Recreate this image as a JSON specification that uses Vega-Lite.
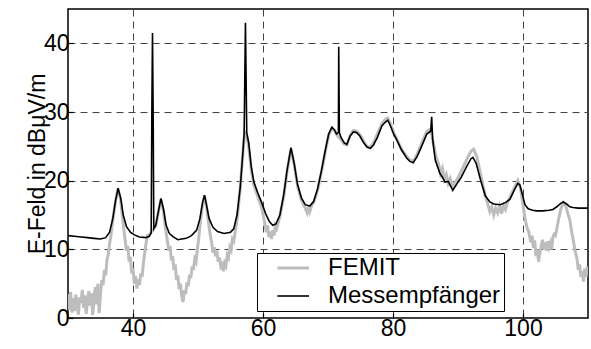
{
"$schema": "https://vega.github.io/schema/vega-lite/v6.json",
"width": 520,
"height": 309,
"padding": {"left": 68, "top": 9, "right": 3, "bottom": 31},
"autosize": {"type": "none"},
"config": {
  "font": "Liberation Sans",
  "view": {"stroke": "black", "strokeWidth": 1.5},
  "axis": {"labelFont": "Liberation Sans", "labelFontSize": 23, "labelColor": "black", "titleFont": "Liberation Sans", "titleFontSize": 23, "titleFontWeight": "normal", "titleColor": "black", "domain": false, "grid": true, "gridColor": "#444444", "gridDash": [7, 5], "gridWidth": 1, "gridOpacity": 1, "tickColor": "black", "tickSize": -5, "tickWidth": 1.2}
},
"data": {"values": [
{"s":"FEMIT","f":30,"e":3.5},{"s":"FEMIT","f":30.2,"e":1.2},{"s":"FEMIT","f":30.4,"e":3.8},{"s":"FEMIT","f":30.6,"e":0.8},{"s":"FEMIT","f":30.8,"e":2.9},{"s":"FEMIT","f":31,"e":1.0},{"s":"FEMIT","f":31.2,"e":3.4},{"s":"FEMIT","f":31.4,"e":2.0},{"s":"FEMIT","f":31.6,"e":0.5},{"s":"FEMIT","f":31.8,"e":3.0},{"s":"FEMIT","f":32,"e":2.2},{"s":"FEMIT","f":32.2,"e":4.1},{"s":"FEMIT","f":32.4,"e":1.5},{"s":"FEMIT","f":32.6,"e":3.3},{"s":"FEMIT","f":32.8,"e":0.6},{"s":"FEMIT","f":33,"e":2.5},{"s":"FEMIT","f":33.2,"e":3.9},{"s":"FEMIT","f":33.4,"e":1.8},{"s":"FEMIT","f":33.6,"e":3.6},{"s":"FEMIT","f":33.8,"e":0.4},{"s":"FEMIT","f":34,"e":2.8},{"s":"FEMIT","f":34.2,"e":4.5},{"s":"FEMIT","f":34.4,"e":2.0},{"s":"FEMIT","f":34.6,"e":5.0},{"s":"FEMIT","f":34.8,"e":0.7},{"s":"FEMIT","f":35,"e":3.5},{"s":"FEMIT","f":35.2,"e":5.5},{"s":"FEMIT","f":35.4,"e":4.8},{"s":"FEMIT","f":35.6,"e":7.0},{"s":"FEMIT","f":35.8,"e":6.2},{"s":"FEMIT","f":36,"e":8.5},{"s":"FEMIT","f":36.2,"e":9.3},{"s":"FEMIT","f":36.4,"e":10.8},{"s":"FEMIT","f":36.6,"e":12.0},{"s":"FEMIT","f":36.9,"e":14.3},{"s":"FEMIT","f":37.3,"e":17.0},{"s":"FEMIT","f":37.7,"e":18.8},{"s":"FEMIT","f":38.1,"e":17.2},{"s":"FEMIT","f":38.4,"e":14.5},{"s":"FEMIT","f":38.7,"e":12.0},{"s":"FEMIT","f":39,"e":9.8},{"s":"FEMIT","f":39.2,"e":10.5},{"s":"FEMIT","f":39.4,"e":8.2},{"s":"FEMIT","f":39.6,"e":8.9},{"s":"FEMIT","f":39.8,"e":6.5},{"s":"FEMIT","f":40,"e":7.3},{"s":"FEMIT","f":40.2,"e":5.0},{"s":"FEMIT","f":40.4,"e":6.1},{"s":"FEMIT","f":40.6,"e":4.3},{"s":"FEMIT","f":40.8,"e":5.6},{"s":"FEMIT","f":41,"e":4.8},{"s":"FEMIT","f":41.2,"e":6.5},{"s":"FEMIT","f":41.4,"e":6.0},{"s":"FEMIT","f":41.6,"e":8.0},{"s":"FEMIT","f":41.8,"e":9.5},{"s":"FEMIT","f":42,"e":10.8},{"s":"FEMIT","f":42.2,"e":12.0},{"s":"FEMIT","f":42.5,"e":12.1},{"s":"FEMIT","f":42.8,"e":12.5},{"s":"FEMIT","f":43.2,"e":13.0},{"s":"FEMIT","f":43.5,"e":13.4},{"s":"FEMIT","f":43.9,"e":15.4},{"s":"FEMIT","f":44.3,"e":17.3},{"s":"FEMIT","f":44.7,"e":15.5},{"s":"FEMIT","f":45,"e":13.0},{"s":"FEMIT","f":45.3,"e":11.2},{"s":"FEMIT","f":45.5,"e":9.8},{"s":"FEMIT","f":45.7,"e":10.5},{"s":"FEMIT","f":45.9,"e":8.4},{"s":"FEMIT","f":46.1,"e":9.0},{"s":"FEMIT","f":46.3,"e":7.0},{"s":"FEMIT","f":46.5,"e":7.8},{"s":"FEMIT","f":46.7,"e":5.5},{"s":"FEMIT","f":46.9,"e":6.2},{"s":"FEMIT","f":47.1,"e":4.2},{"s":"FEMIT","f":47.3,"e":5.0},{"s":"FEMIT","f":47.5,"e":3.2},{"s":"FEMIT","f":47.7,"e":2.3},{"s":"FEMIT","f":47.9,"e":4.0},{"s":"FEMIT","f":48.1,"e":3.5},{"s":"FEMIT","f":48.3,"e":5.2},{"s":"FEMIT","f":48.5,"e":4.6},{"s":"FEMIT","f":48.7,"e":6.3},{"s":"FEMIT","f":48.9,"e":5.8},{"s":"FEMIT","f":49.1,"e":7.5},{"s":"FEMIT","f":49.3,"e":7.0},{"s":"FEMIT","f":49.5,"e":8.6},{"s":"FEMIT","f":49.7,"e":8.2},{"s":"FEMIT","f":49.9,"e":10.0},{"s":"FEMIT","f":50.1,"e":11.5},{"s":"FEMIT","f":50.3,"e":13.5},{"s":"FEMIT","f":50.7,"e":16.5},{"s":"FEMIT","f":51,"e":17.8},{"s":"FEMIT","f":51.3,"e":16.3},{"s":"FEMIT","f":51.6,"e":14.0},{"s":"FEMIT","f":51.9,"e":12.0},{"s":"FEMIT","f":52.1,"e":11.0},{"s":"FEMIT","f":52.3,"e":9.5},{"s":"FEMIT","f":52.5,"e":10.3},{"s":"FEMIT","f":52.7,"e":9.0},{"s":"FEMIT","f":52.9,"e":9.8},{"s":"FEMIT","f":53.1,"e":8.2},{"s":"FEMIT","f":53.3,"e":8.8},{"s":"FEMIT","f":53.5,"e":7.5},{"s":"FEMIT","f":53.7,"e":7.8},{"s":"FEMIT","f":53.9,"e":6.8},{"s":"FEMIT","f":54.1,"e":8.0},{"s":"FEMIT","f":54.3,"e":7.6},{"s":"FEMIT","f":54.5,"e":9.2},{"s":"FEMIT","f":54.7,"e":8.8},{"s":"FEMIT","f":54.9,"e":10.3},{"s":"FEMIT","f":55.1,"e":9.9},{"s":"FEMIT","f":55.3,"e":11.5},{"s":"FEMIT","f":55.5,"e":11.2},{"s":"FEMIT","f":55.8,"e":13.0},{"s":"FEMIT","f":56.1,"e":15.0},{"s":"FEMIT","f":56.5,"e":19.0},{"s":"FEMIT","f":56.9,"e":24.0},{"s":"FEMIT","f":57.2,"e":27.0},{"s":"FEMIT","f":57.5,"e":26.5},{"s":"FEMIT","f":57.8,"e":25.0},{"s":"FEMIT","f":58.2,"e":21.5},{"s":"FEMIT","f":58.6,"e":19.3},{"s":"FEMIT","f":59.2,"e":17.7},{"s":"FEMIT","f":59.8,"e":16.0},{"s":"FEMIT","f":60.2,"e":14.2},{"s":"FEMIT","f":60.5,"e":12.5},{"s":"FEMIT","f":60.7,"e":13.5},{"s":"FEMIT","f":60.9,"e":11.8},{"s":"FEMIT","f":61.1,"e":12.6},{"s":"FEMIT","f":61.3,"e":11.5},{"s":"FEMIT","f":61.5,"e":12.8},{"s":"FEMIT","f":61.7,"e":12.0},{"s":"FEMIT","f":61.9,"e":13.4},{"s":"FEMIT","f":62.1,"e":13.0},{"s":"FEMIT","f":62.6,"e":14.8},{"s":"FEMIT","f":63.2,"e":17.8},{"s":"FEMIT","f":63.7,"e":21.3},{"s":"FEMIT","f":64.3,"e":24.6},{"s":"FEMIT","f":64.8,"e":22.3},{"s":"FEMIT","f":65.3,"e":19.3},{"s":"FEMIT","f":65.9,"e":17.2},{"s":"FEMIT","f":66.5,"e":16.0},{"s":"FEMIT","f":66.8,"e":15.3},{"s":"FEMIT","f":67,"e":16.2},{"s":"FEMIT","f":67.2,"e":15.5},{"s":"FEMIT","f":67.5,"e":16.4},{"s":"FEMIT","f":67.8,"e":16.8},{"s":"FEMIT","f":68.4,"e":18.6},{"s":"FEMIT","f":69,"e":21.3},{"s":"FEMIT","f":69.6,"e":24.3},{"s":"FEMIT","f":70.1,"e":26.6},{"s":"FEMIT","f":70.6,"e":27.6},{"s":"FEMIT","f":71,"e":27.3},{"s":"FEMIT","f":71.5,"e":26.5},{"s":"FEMIT","f":72,"e":26.0},{"s":"FEMIT","f":72.5,"e":25.3},{"s":"FEMIT","f":72.9,"e":25.2},{"s":"FEMIT","f":73.4,"e":26.6},{"s":"FEMIT","f":73.9,"e":27.3},{"s":"FEMIT","f":74.4,"e":27.2},{"s":"FEMIT","f":74.9,"e":26.7},{"s":"FEMIT","f":75.5,"e":25.7},{"s":"FEMIT","f":76,"e":25.0},{"s":"FEMIT","f":76.5,"e":24.8},{"s":"FEMIT","f":77,"e":25.5},{"s":"FEMIT","f":77.6,"e":26.8},{"s":"FEMIT","f":78.3,"e":28.3},{"s":"FEMIT","f":78.8,"e":28.9},{"s":"FEMIT","f":79.2,"e":29.1},{"s":"FEMIT","f":79.6,"e":28.3},{"s":"FEMIT","f":80.1,"e":27.0},{"s":"FEMIT","f":80.6,"e":26.0},{"s":"FEMIT","f":81.3,"e":24.6},{"s":"FEMIT","f":82.1,"e":23.5},{"s":"FEMIT","f":82.6,"e":23.0},{"s":"FEMIT","f":83.1,"e":22.8},{"s":"FEMIT","f":83.7,"e":23.8},{"s":"FEMIT","f":84.4,"e":25.4},{"s":"FEMIT","f":85.2,"e":27.2},{"s":"FEMIT","f":85.8,"e":27.5},{"s":"FEMIT","f":86.2,"e":25.5},{"s":"FEMIT","f":86.6,"e":23.5},{"s":"FEMIT","f":87,"e":22.5},{"s":"FEMIT","f":87.3,"e":21.0},{"s":"FEMIT","f":87.6,"e":21.8},{"s":"FEMIT","f":87.9,"e":20.2},{"s":"FEMIT","f":88.2,"e":20.9},{"s":"FEMIT","f":88.5,"e":19.6},{"s":"FEMIT","f":88.8,"e":20.3},{"s":"FEMIT","f":89.2,"e":19.0},{"s":"FEMIT","f":89.6,"e":19.8},{"s":"FEMIT","f":90.1,"e":20.6},{"s":"FEMIT","f":90.7,"e":21.8},{"s":"FEMIT","f":91.3,"e":23.0},{"s":"FEMIT","f":92,"e":24.3},{"s":"FEMIT","f":92.4,"e":24.6},{"s":"FEMIT","f":92.9,"e":23.5},{"s":"FEMIT","f":93.5,"e":20.8},{"s":"FEMIT","f":94.2,"e":17.8},{"s":"FEMIT","f":94.6,"e":16.5},{"s":"FEMIT","f":94.9,"e":15.5},{"s":"FEMIT","f":95.2,"e":16.2},{"s":"FEMIT","f":95.5,"e":15.0},{"s":"FEMIT","f":95.8,"e":16.0},{"s":"FEMIT","f":96.1,"e":15.3},{"s":"FEMIT","f":96.4,"e":16.3},{"s":"FEMIT","f":96.7,"e":15.2},{"s":"FEMIT","f":97,"e":16.4},{"s":"FEMIT","f":97.3,"e":15.8},{"s":"FEMIT","f":97.6,"e":16.8},{"s":"FEMIT","f":98,"e":17.6},{"s":"FEMIT","f":98.6,"e":18.8},{"s":"FEMIT","f":99.2,"e":20.0},{"s":"FEMIT","f":99.6,"e":19.0},{"s":"FEMIT","f":100,"e":16.5},{"s":"FEMIT","f":100.3,"e":14.5},{"s":"FEMIT","f":100.6,"e":13.2},{"s":"FEMIT","f":100.9,"e":12.5},{"s":"FEMIT","f":101.2,"e":11.0},{"s":"FEMIT","f":101.4,"e":12.0},{"s":"FEMIT","f":101.6,"e":10.2},{"s":"FEMIT","f":101.8,"e":11.3},{"s":"FEMIT","f":102,"e":9.0},{"s":"FEMIT","f":102.2,"e":10.0},{"s":"FEMIT","f":102.4,"e":8.2},{"s":"FEMIT","f":102.6,"e":9.5},{"s":"FEMIT","f":102.8,"e":10.5},{"s":"FEMIT","f":103,"e":11.4},{"s":"FEMIT","f":103.2,"e":10.0},{"s":"FEMIT","f":103.4,"e":11.0},{"s":"FEMIT","f":103.6,"e":9.8},{"s":"FEMIT","f":103.8,"e":11.2},{"s":"FEMIT","f":104,"e":10.3},{"s":"FEMIT","f":104.2,"e":10.9},{"s":"FEMIT","f":104.4,"e":10.0},{"s":"FEMIT","f":104.6,"e":11.8},{"s":"FEMIT","f":104.8,"e":12.2},{"s":"FEMIT","f":105,"e":12.0},{"s":"FEMIT","f":105.2,"e":13.0},{"s":"FEMIT","f":105.5,"e":14.5},{"s":"FEMIT","f":105.8,"e":15.8},{"s":"FEMIT","f":106.2,"e":16.8},{"s":"FEMIT","f":106.6,"e":16.3},{"s":"FEMIT","f":106.9,"e":15.2},{"s":"FEMIT","f":107.2,"e":14.3},{"s":"FEMIT","f":107.5,"e":12.5},{"s":"FEMIT","f":107.8,"e":11.0},{"s":"FEMIT","f":108,"e":9.8},{"s":"FEMIT","f":108.3,"e":8.7},{"s":"FEMIT","f":108.5,"e":7.0},{"s":"FEMIT","f":108.7,"e":7.8},{"s":"FEMIT","f":108.9,"e":6.0},{"s":"FEMIT","f":109.1,"e":6.8},{"s":"FEMIT","f":109.3,"e":5.3},{"s":"FEMIT","f":109.5,"e":7.2},{"s":"FEMIT","f":109.7,"e":6.0},{"s":"FEMIT","f":109.9,"e":7.5},{"s":"FEMIT","f":110,"e":7.0},
{"s":"Messempfänger","f":30,"e":12.0},{"s":"Messempfänger","f":31,"e":11.9},{"s":"Messempfänger","f":32,"e":11.8},{"s":"Messempfänger","f":33,"e":11.7},{"s":"Messempfänger","f":34,"e":11.6},{"s":"Messempfänger","f":35,"e":11.5},{"s":"Messempfänger","f":35.8,"e":11.7},{"s":"Messempfänger","f":36.4,"e":12.5},{"s":"Messempfänger","f":36.9,"e":14.5},{"s":"Messempfänger","f":37.3,"e":17.0},{"s":"Messempfänger","f":37.7,"e":18.9},{"s":"Messempfänger","f":38.1,"e":17.5},{"s":"Messempfänger","f":38.5,"e":15.0},{"s":"Messempfänger","f":39,"e":13.3},{"s":"Messempfänger","f":39.6,"e":12.5},{"s":"Messempfänger","f":40.2,"e":12.1},{"s":"Messempfänger","f":41,"e":11.8},{"s":"Messempfänger","f":42,"e":11.7},{"s":"Messempfänger","f":42.5,"e":11.9},{"s":"Messempfänger","f":42.8,"e":12.4},{"s":"Messempfänger","f":42.9,"e":30},{"s":"Messempfänger","f":43,"e":41.5},{"s":"Messempfänger","f":43.1,"e":30},{"s":"Messempfänger","f":43.2,"e":13.0},{"s":"Messempfänger","f":43.5,"e":13.5},{"s":"Messempfänger","f":43.9,"e":15.5},{"s":"Messempfänger","f":44.3,"e":17.4},{"s":"Messempfänger","f":44.7,"e":15.8},{"s":"Messempfänger","f":45.1,"e":13.5},{"s":"Messempfänger","f":45.6,"e":12.3},{"s":"Messempfänger","f":46.2,"e":11.8},{"s":"Messempfänger","f":46.9,"e":11.4},{"s":"Messempfänger","f":47.5,"e":11.5},{"s":"Messempfänger","f":48.2,"e":11.6},{"s":"Messempfänger","f":49,"e":12.0},{"s":"Messempfänger","f":49.8,"e":12.8},{"s":"Messempfänger","f":50.3,"e":14.5},{"s":"Messempfänger","f":50.7,"e":16.8},{"s":"Messempfänger","f":51,"e":17.9},{"s":"Messempfänger","f":51.3,"e":16.5},{"s":"Messempfänger","f":51.7,"e":14.5},{"s":"Messempfänger","f":52.3,"e":13.2},{"s":"Messempfänger","f":53,"e":12.6},{"s":"Messempfänger","f":54,"e":12.3},{"s":"Messempfänger","f":55,"e":12.5},{"s":"Messempfänger","f":55.5,"e":13.0},{"s":"Messempfänger","f":56,"e":15.0},{"s":"Messempfänger","f":56.5,"e":19},{"s":"Messempfänger","f":56.9,"e":24},{"s":"Messempfänger","f":57.1,"e":27},{"s":"Messempfänger","f":57.2,"e":35},{"s":"Messempfänger","f":57.3,"e":43.0},{"s":"Messempfänger","f":57.4,"e":35},{"s":"Messempfänger","f":57.5,"e":27},{"s":"Messempfänger","f":57.8,"e":25.5},{"s":"Messempfänger","f":58.2,"e":22.0},{"s":"Messempfänger","f":58.6,"e":19.8},{"s":"Messempfänger","f":59.2,"e":18.2},{"s":"Messempfänger","f":59.8,"e":16.8},{"s":"Messempfänger","f":60.4,"e":15.2},{"s":"Messempfänger","f":61,"e":14.0},{"s":"Messempfänger","f":61.5,"e":13.5},{"s":"Messempfänger","f":62,"e":13.7},{"s":"Messempfänger","f":62.6,"e":15.0},{"s":"Messempfänger","f":63.2,"e":18.0},{"s":"Messempfänger","f":63.7,"e":21.5},{"s":"Messempfänger","f":64.3,"e":24.8},{"s":"Messempfänger","f":64.8,"e":22.5},{"s":"Messempfänger","f":65.3,"e":19.5},{"s":"Messempfänger","f":65.9,"e":17.5},{"s":"Messempfänger","f":66.5,"e":16.5},{"s":"Messempfänger","f":67.2,"e":16.3},{"s":"Messempfänger","f":67.8,"e":17.0},{"s":"Messempfänger","f":68.4,"e":18.8},{"s":"Messempfänger","f":69,"e":21.5},{"s":"Messempfänger","f":69.6,"e":24.5},{"s":"Messempfänger","f":70.1,"e":26.8},{"s":"Messempfänger","f":70.6,"e":27.8},{"s":"Messempfänger","f":71,"e":27.4},{"s":"Messempfänger","f":71.3,"e":26.8},{"s":"Messempfänger","f":71.6,"e":27},{"s":"Messempfänger","f":71.65,"e":39.5},{"s":"Messempfänger","f":71.75,"e":27},{"s":"Messempfänger","f":72,"e":26.3},{"s":"Messempfänger","f":72.5,"e":25.5},{"s":"Messempfänger","f":72.9,"e":25.3},{"s":"Messempfänger","f":73.4,"e":26.5},{"s":"Messempfänger","f":73.9,"e":27.1},{"s":"Messempfänger","f":74.4,"e":27.0},{"s":"Messempfänger","f":74.9,"e":26.5},{"s":"Messempfänger","f":75.5,"e":25.5},{"s":"Messempfänger","f":76,"e":24.9},{"s":"Messempfänger","f":76.5,"e":24.7},{"s":"Messempfänger","f":77,"e":25.2},{"s":"Messempfänger","f":77.6,"e":26.3},{"s":"Messempfänger","f":78.3,"e":28.0},{"s":"Messempfänger","f":78.8,"e":28.5},{"s":"Messempfänger","f":79.2,"e":28.8},{"s":"Messempfänger","f":79.6,"e":28.0},{"s":"Messempfänger","f":80.1,"e":26.8},{"s":"Messempfänger","f":80.6,"e":25.9},{"s":"Messempfänger","f":81.3,"e":24.5},{"s":"Messempfänger","f":82.1,"e":23.3},{"s":"Messempfänger","f":82.6,"e":22.8},{"s":"Messempfänger","f":83.1,"e":22.6},{"s":"Messempfänger","f":83.7,"e":23.5},{"s":"Messempfänger","f":84.4,"e":25.0},{"s":"Messempfänger","f":85.2,"e":26.8},{"s":"Messempfänger","f":85.8,"e":27.2},{"s":"Messempfänger","f":85.95,"e":29.3},{"s":"Messempfänger","f":86.1,"e":26.0},{"s":"Messempfänger","f":86.5,"e":23.0},{"s":"Messempfänger","f":87.2,"e":21.1},{"s":"Messempfänger","f":87.6,"e":20.5},{"s":"Messempfänger","f":88,"e":19.8},{"s":"Messempfänger","f":88.5,"e":19.9},{"s":"Messempfänger","f":89.2,"e":18.6},{"s":"Messempfänger","f":89.8,"e":19.5},{"s":"Messempfänger","f":90.5,"e":20.5},{"s":"Messempfänger","f":91.3,"e":22.0},{"s":"Messempfänger","f":92,"e":23.2},{"s":"Messempfänger","f":92.3,"e":23.4},{"s":"Messempfänger","f":92.8,"e":22.5},{"s":"Messempfänger","f":93.5,"e":20.0},{"s":"Messempfänger","f":94.2,"e":17.8},{"s":"Messempfänger","f":94.9,"e":16.9},{"s":"Messempfänger","f":95.5,"e":16.6},{"s":"Messempfänger","f":96.5,"e":16.5},{"s":"Messempfänger","f":97.3,"e":16.8},{"s":"Messempfänger","f":98,"e":17.3},{"s":"Messempfänger","f":98.6,"e":18.5},{"s":"Messempfänger","f":99.2,"e":19.6},{"s":"Messempfänger","f":99.5,"e":19.4},{"s":"Messempfänger","f":99.9,"e":18.0},{"s":"Messempfänger","f":100.3,"e":16.5},{"s":"Messempfänger","f":100.8,"e":15.9},{"s":"Messempfänger","f":101.5,"e":15.7},{"s":"Messempfänger","f":102.1,"e":15.6},{"s":"Messempfänger","f":103,"e":15.6},{"s":"Messempfänger","f":104,"e":15.7},{"s":"Messempfänger","f":104.6,"e":15.8},{"s":"Messempfänger","f":105.2,"e":16.2},{"s":"Messempfänger","f":105.8,"e":16.7},{"s":"Messempfänger","f":106.2,"e":16.9},{"s":"Messempfänger","f":106.7,"e":16.6},{"s":"Messempfänger","f":107.2,"e":16.2},{"s":"Messempfänger","f":107.7,"e":16.1},{"s":"Messempfänger","f":108.5,"e":16.0},{"s":"Messempfänger","f":109.3,"e":16.0},{"s":"Messempfänger","f":110,"e":16.0}
]},
"mark": {"type": "line", "clip": true},
"encoding": {
  "x": {"field": "f", "type": "quantitative", "scale": {"domain": [30, 110], "nice": false}, "axis": {"title": null, "values": [40, 60, 80, 100], "labelPadding": 4}},
  "y": {"field": "e", "type": "quantitative", "scale": {"domain": [0, 45], "nice": false}, "axis": {"title": "E-Feld in dBμV/m", "values": [0, 10, 20, 30, 40], "labelPadding": 4, "titlePadding": -6}},
  "color": {"field": "s", "type": "nominal", "scale": {"domain": ["FEMIT", "Messempfänger"], "range": ["#bdbdbd", "#000000"]},
    "legend": {"title": null, "orient": "none", "legendX": 189, "legendY": 244, "fillColor": "white", "strokeColor": "black", "padding": 3, "labelFontSize": 24, "labelColor": "black", "labelFont": "Liberation Sans", "labelLimit": 400, "labelExpr": "datum.label + '\u00a0\u00a0'", "symbolType": "M1.1,0H7.4", "symbolSize": 100, "symbolStrokeWidth": 2.5, "labelOffset": 44, "rowPadding": 4}},
  "strokeWidth": {"field": "s", "type": "nominal", "scale": {"domain": ["FEMIT", "Messempfänger"], "range": [3, 1.6]}, "legend": null}
}
}
